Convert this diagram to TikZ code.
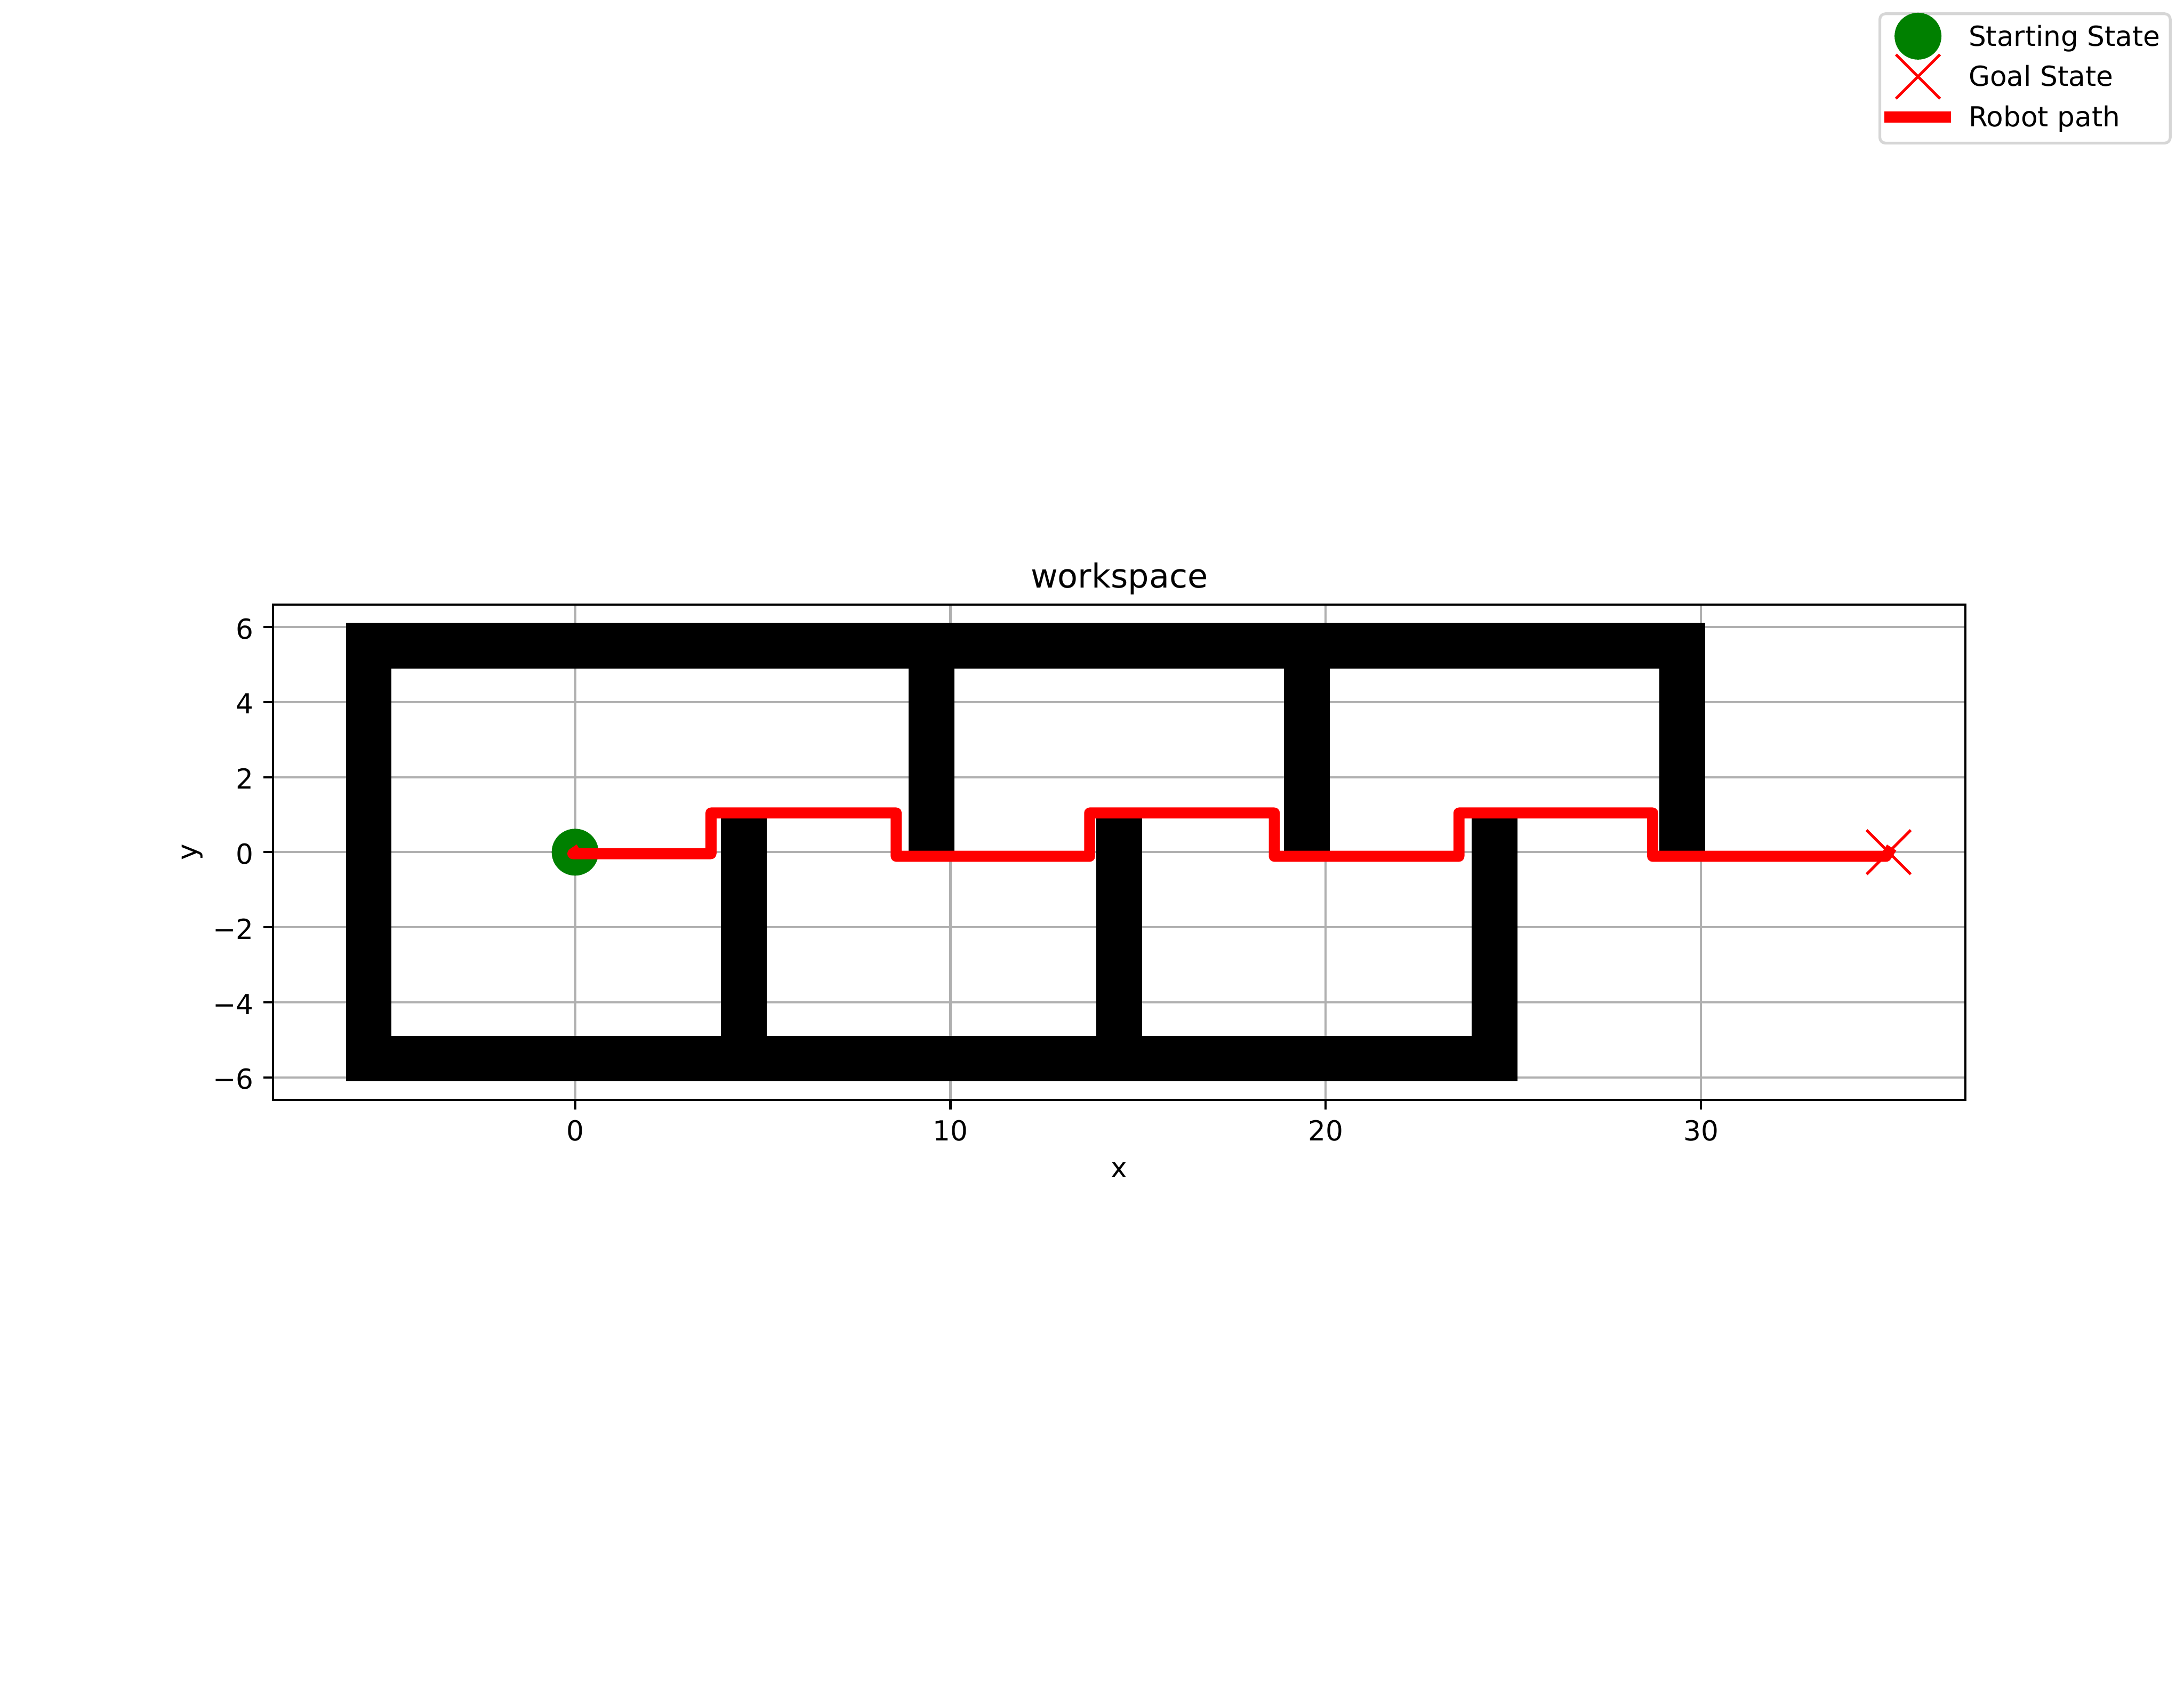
\documentclass[tikz,border=0pt]{standalone}
\usepackage{fontspec}
\setmainfont{DejaVu Sans}
\usetikzlibrary{shapes.misc}
\definecolor{gridgray}{HTML}{B0B0B0}
\definecolor{mplgreen}{HTML}{008000}
\definecolor{legedge}{HTML}{D6D6D6}
\begin{document}
\begin{tikzpicture}[
  wallbox/.style={fill=black},
  gridline/.style={draw=gridgray, line width=0.8bp},
  spine/.style={draw=black, line width=0.8bp},
  tickmark/.style={draw=black, line width=0.8bp},
  ticklbl/.style={inner sep=0pt, outer sep=0pt, font=\fontsize{10bp}{12bp}\selectfont},
  titlelbl/.style={inner sep=0pt, outer sep=0pt, font=\fontsize{12bp}{14bp}\selectfont},
  robotpath/.style={draw=red, line width=4bp, line join=round, line cap=rect},
  startmark/.style={circle, fill=mplgreen, draw=mplgreen, line width=1bp, minimum size=16bp, inner sep=0pt, outer sep=0pt},
  goalmark/.style={cross out, draw=red, line width=1bp, minimum size=16bp, inner sep=0pt, outer sep=0pt},
  legframe/.style={draw=legedge, fill=white, line width=1bp, rounded corners=2bp},
  leglinestyle/.style={draw=red, line width=4bp, line cap=rect}
]
\useasboundingbox (0,0) rectangle (792bp,612bp);
\fill[white] (0,0) rectangle (792bp,612bp);

\begin{scope}[shift={(208.558bp,302.94bp)}, x=13.6097bp, y=13.6097bp]
  % grid
  \foreach \gx in {0,10,20,30} \draw[gridline] (\gx,-6.6) -- (\gx,6.6);
  \foreach \gy in {-6,-4,...,6} \draw[gridline] (-8.05,\gy) -- (37.05,\gy);
  % walls
  \fill[wallbox] (-6.11,-6.11) rectangle (-4.89,6.11);
  \fill[wallbox] (-6.11,4.89) rectangle (30.11,6.11);
  \fill[wallbox] (-6.11,-6.11) rectangle (25.11,-4.89);
  \fill[wallbox] (28.89,-0.11) rectangle (30.11,6.11);
  \fill[wallbox] (8.89,-0.11) rectangle (10.11,6.11);
  \fill[wallbox] (18.89,-0.11) rectangle (20.11,6.11);
  \fill[wallbox] (3.89,-6.11) rectangle (5.11,1.11);
  \fill[wallbox] (13.89,-6.11) rectangle (15.11,1.11);
  \fill[wallbox] (23.89,-6.11) rectangle (25.11,1.11);
  % markers
  \node[startmark] (start) at (0,0) {};
  \node[goalmark] (goal) at (35,0) {};
  % robot path
  \draw[robotpath] (start.center) -- (-0.06,-0.04) -- (3.62,-0.04) -- (3.62,1.045)
    -- (8.555,1.045) -- (8.555,-0.108) -- (13.71,-0.108) -- (13.71,1.045)
    -- (18.63,1.045) -- (18.63,-0.108) -- (23.55,-0.108) -- (23.55,1.045)
    -- (28.71,1.045) -- (28.71,-0.108) -- (34.93,-0.108) -- (goal.center);
  % spines
  \draw[spine] (-8.05,-6.6) rectangle (37.05,6.6);
  % ticks
  \foreach \gx in {0,10,20,30} {
    \draw[tickmark] (\gx,-6.6) -- ++(0,-3.5bp);
    \node[ticklbl, anchor=base] (xtick\gx) at (\gx,-7.693) {\gx};
  }
  \foreach \gy/\lab in {-6/−6,-4/−4,-2/−2,0/0,2/2,4/4,6/6} {
    \draw[tickmark] (-8.05,\gy) -- ++(-3.5bp,0);
    \node[ticklbl, anchor=base east] (ytick\gy) at (-8.564,{\gy-0.315}) {\lab};
  }
  % labels
  \node[ticklbl, anchor=base] (xlabel) at (14.5,-8.663) {x};
  \node[ticklbl, anchor=base, rotate=90] (ylabel) at (-10.068,0) {y};
  \node[titlelbl, anchor=base] (title) at (14.5,7.041) {workspace};
\end{scope}

% legend
\draw[legframe] (681.7bp,560.1bp) rectangle (787bp,607bp);
\node[startmark] (legstart) at (695.53bp,598.87bp) {};
\node[goalmark] (leggoal) at (695.53bp,584.21bp) {};
\coordinate (legA) at (685.4bp,569.54bp);
\coordinate (legB) at (705.4bp,569.54bp);
\draw[leglinestyle] (legA) -- (legB);
\node[ticklbl, anchor=base west] (legt1) at (713.9bp,595.2bp) {Starting State};
\node[ticklbl, anchor=base west] (legt2) at (713.9bp,580.71bp) {Goal State};
\node[ticklbl, anchor=base west] (legt3) at (713.9bp,566.06bp) {Robot path};
\end{tikzpicture}
\end{document}
